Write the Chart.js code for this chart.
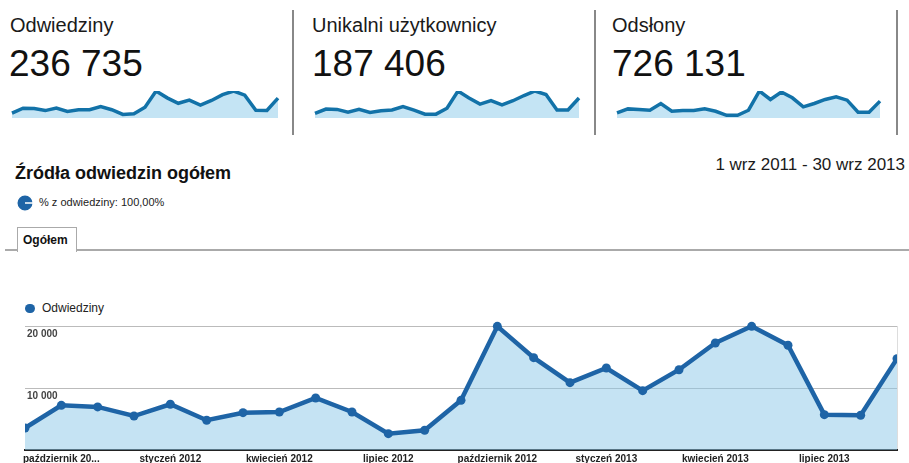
<!DOCTYPE html>
<html>
<head>
<meta charset="utf-8">
<script src="https://cdn.jsdelivr.net/npm/chart.js@4"></script>
<style>
body{margin:0;width:909px;height:463px;overflow:hidden;background:#fff;font-family:Arial,"Liberation Sans",sans-serif;position:relative;}
.abs{position:absolute;line-height:1;white-space:nowrap;}
.lbl{font-size:20px;color:#1a1a1a;}
.num{font-size:37px;color:#111;}
.sep{position:absolute;top:10px;width:2px;height:125px;background:#888;}
canvas{position:absolute;}
</style>
</head>
<body>

<div class="abs lbl" style="left:10px;top:15px">Odwiedziny</div>
<div class="abs num" style="left:9px;top:45px">236 735</div>
<div class="sep" style="left:292px"></div>
<div class="abs lbl" style="left:312px;top:15px">Unikalni użytkownicy</div>
<div class="abs num" style="left:312px;top:45px">187 406</div>
<div class="sep" style="left:594px"></div>
<div class="abs lbl" style="left:612px;top:15px">Odsłony</div>
<div class="abs num" style="left:612px;top:45px">726 131</div>
<div class="sep" style="left:896px"></div>

<div style="position:absolute;left:10px;top:87px;width:270px;height:32px"><canvas id="spark1"></canvas></div>
<div style="position:absolute;left:313px;top:87px;width:268px;height:32px"><canvas id="spark2"></canvas></div>
<div style="position:absolute;left:615px;top:87px;width:267px;height:32px"><canvas id="spark3"></canvas></div>

<div class="abs" style="left:15px;top:164px;font-size:18px;font-weight:bold;color:#111">Źródła odwiedzin ogółem</div>
<div class="abs" style="right:4px;top:156px;font-size:17px;color:#1a1a1a">1 wrz 2011 - 30 wrz 2013</div>

<div style="position:absolute;left:16px;top:194px;width:18px;height:18px"><canvas id="pie"></canvas></div>
<div class="abs" style="left:39px;top:197px;font-size:11px;color:#222">% z odwiedziny: 100,00%</div>

<div style="position:absolute;left:5px;top:249px;width:904px;height:2px;background:#aaa"></div>
<div style="position:absolute;left:17px;top:227px;width:58px;height:24px;border:1px solid #aaa;border-bottom:none;background:#fff"></div>
<div class="abs" style="left:23px;top:234px;font-size:12px;font-weight:bold;color:#111">Ogółem</div>

<div style="position:absolute;left:25px;top:303.5px;width:9.5px;height:9.5px;border-radius:50%;background:#1e64a6"></div>
<div class="abs" style="left:42px;top:302px;font-size:12px;color:#222">Odwiedziny</div>

<div style="position:absolute;left:0;top:318px;width:909px;height:150px"><canvas id="main"></canvas></div>

<script>
// miesiące wrz 2011 - wrz 2013
const months = ["wrz 2011","paź 2011","lis 2011","gru 2011","sty 2012","lut 2012","mar 2012","kwi 2012","maj 2012","cze 2012","lip 2012","sie 2012","wrz 2012","paź 2012","lis 2012","gru 2012","sty 2013","lut 2013","mar 2013","kwi 2013","maj 2013","cze 2013","lip 2013","sie 2013","wrz 2013"];
const tickLabels = ["","październik 20...","","","styczeń 2012","","","kwiecień 2012","","","lipiec 2012","","","październik 2012","","","styczeń 2013","","","kwiecień 2013","","","lipiec 2013","",""];

const visits = [3550,7200,6950,5480,7380,4800,6020,6130,8390,6130,2640,3180,8010,19950,14890,10860,13230,9570,12950,17260,19950,16890,5700,5600,14730];
const uniqueUsers = [2650,5290,5060,3470,5110,3260,4290,4680,6730,4640,2250,2270,5720,15850,11820,8160,10180,7740,10170,13230,15880,13820,4700,4690,11790];
const pageviews = [12350,22180,20460,18890,35310,16370,18120,18010,22230,16420,6610,6540,18930,65720,45060,63210,49180,27120,35290,45170,51730,43390,13980,13920,41050];

const yTicks = [0,10000,20000];

const fmt = v => String(v).replace(/\B(?=(\d{3})+(?!\d))/g," ");

/* SPARKLINES */

function spark(id,values){
new Chart(document.getElementById(id),{
type:"line",
data:{
labels:months,
datasets:[{
data:values,
borderColor:"#1272a8",
borderWidth:3.5,
backgroundColor:"#c4e4f4",
fill:"origin",
pointRadius:0,
tension:0
}]
},
options:{
responsive:true,
maintainAspectRatio:false,
animation:false,
layout:{padding:{left:2,right:2,top:4,bottom:1}},
plugins:{legend:{display:false},tooltip:{enabled:false}},
scales:{
x:{display:false},
y:{display:false,min:0,max:Math.max(...values)}
}
}
});
}

spark("spark1",visits);
spark("spark2",uniqueUsers);
spark("spark3",pageviews);

/* PIE ICON */

new Chart(document.getElementById("pie"),{
type:"pie",
data:{
labels:["Ogółem"],
datasets:[{
data:[100],
backgroundColor:"#1e64a6",
borderColor:"#fff",
borderWidth:1.5
}]
},
options:{
responsive:true,
maintainAspectRatio:false,
animation:false,
rotation:90,
plugins:{legend:{display:false},tooltip:{enabled:false}}
}
});

/* MAIN CHART */

new Chart(document.getElementById("main"),{
type:"line",
data:{
labels:months,
datasets:[{
label:"Odwiedziny",
data:visits,
borderColor:"#1e64a6",
borderWidth:4.5,
backgroundColor:"rgba(140,200,232,0.5)",
fill:"origin",
pointRadius:4.5,
pointBackgroundColor:"#1e64a6",
pointBorderColor:"#1e64a6",
pointBorderWidth:0,
tension:0,
clip:{left:0,right:0,top:false,bottom:0}
}]
},
options:{
responsive:true,
maintainAspectRatio:false,
animation:false,
layout:{padding:{left:25,right:12,top:6,bottom:0}},
plugins:{legend:{display:false},tooltip:{enabled:false}},
scales:{
x:{
grid:{
drawTicks:false,
color:ctx=>ctx.index===months.length-1?"#ddd":"rgba(0,0,0,0)"
},
border:{display:true,color:"#222",width:2},
ticks:{
autoSkip:false,
maxRotation:0,
padding:3,
color:"#222",
font:{family:"Arial, 'Liberation Sans'",size:10,weight:"bold"},
callback:(v,i)=>tickLabels[i]
}
},
y:{
min:yTicks[0],
max:yTicks[yTicks.length-1],
afterFit:s=>{s.width=0;},
afterBuildTicks:s=>{s.ticks=yTicks.map(v=>({value:v}));},
grid:{drawTicks:false,color:"#bbb",lineWidth:1},
border:{display:false},
ticks:{
mirror:true,
padding:2,
labelOffset:8,
color:"#444",
font:{family:"Arial, 'Liberation Sans'",size:10,weight:"bold"},
callback:v=>v===0?"":fmt(v)
}
}
}
}
});
</script>
</body>
</html>
